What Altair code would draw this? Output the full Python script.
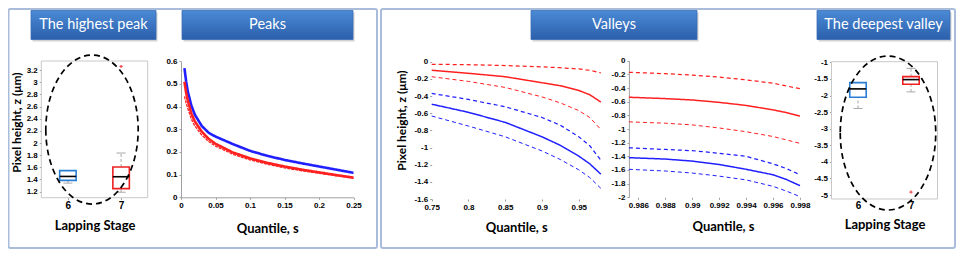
import altair as alt
import pandas as pd

W, H = 953, 241
FONT = "Liberation Sans"
TFONT = "Lato"
BOX_BLUE = "#2a7fd4"
BOX_RED = "#ee2020"
LINE_BLUE = "#2020ff"
LINE_RED = "#ff2020"
AX = "#a0a0a0"

# ---------------- data ----------------
stages = [6, 7]

peak_low = [1.34, 1.19]
peak_q1 = [1.385, 1.25]
peak_median = [1.45, 1.445]
peak_q3 = [1.545, 1.605]
peak_high = [1.545, 1.835]
peak_outlier_stage = [7]
peak_outlier = [3.26]

valley_low = [-2.39, -1.89]
valley_q1 = [-2.05, -1.66]
valley_median = [-1.80, -1.52]
valley_q3 = [-1.61, -1.43]
valley_high = [-1.61, -1.18]
valley_outlier_stage = [7]
valley_outlier = [-4.91]

peak_s = [0.005, 0.0075, 0.01, 0.015, 0.02, 0.03, 0.04, 0.05, 0.075, 0.1,
          0.125, 0.15, 0.175, 0.2, 0.225, 0.25]
peak_stage6 = [0.57, 0.51, 0.465, 0.405, 0.365, 0.315, 0.285, 0.268, 0.235, 0.205,
               0.183, 0.165, 0.150, 0.136, 0.122, 0.108]
peak_stage7 = [0.51, 0.46, 0.425, 0.37, 0.335, 0.29, 0.258, 0.236, 0.198, 0.172,
               0.152, 0.136, 0.122, 0.110, 0.098, 0.087]
peak_stage7_low = [0.445, 0.415, 0.39, 0.345, 0.315, 0.275, 0.246, 0.226, 0.19, 0.165,
                   0.146, 0.13, 0.117, 0.106, 0.095, 0.084]

valley1_s = [0.75, 0.8, 0.85, 0.9, 0.925, 0.95, 0.965, 0.98]
v1_stage7_upper = [-0.03, -0.035, -0.045, -0.06, -0.07, -0.085, -0.10, -0.13]
v1_stage7_mean = [-0.10, -0.135, -0.175, -0.245, -0.28, -0.335, -0.385, -0.47]
v1_stage7_lower = [-0.175, -0.23, -0.30, -0.41, -0.48, -0.57, -0.65, -0.79]
v1_stage6_upper = [-0.37, -0.44, -0.525, -0.65, -0.74, -0.875, -0.98, -1.146]
v1_stage6_mean = [-0.495, -0.59, -0.707, -0.875, -0.975, -1.10, -1.19, -1.31]
v1_stage6_lower = [-0.633, -0.75, -0.875, -1.04, -1.14, -1.26, -1.35, -1.476]

valley2_s = [0.9853, 0.988, 0.990, 0.992, 0.994, 0.996, 0.997, 0.998]
v2_stage7_upper = [-0.17, -0.19, -0.21, -0.24, -0.28, -0.33, -0.37, -0.41]
v2_stage7_mean = [-0.535, -0.555, -0.575, -0.61, -0.655, -0.72, -0.76, -0.81]
v2_stage7_lower = [-0.895, -0.915, -0.94, -0.985, -1.04, -1.11, -1.16, -1.21]
v2_stage6_upper = [-1.275, -1.30, -1.317, -1.355, -1.40, -1.51, -1.58, -1.67]
v2_stage6_mean = [-1.42, -1.44, -1.47, -1.52, -1.59, -1.67, -1.74, -1.83]
v2_stage6_lower = [-1.59, -1.615, -1.645, -1.69, -1.745, -1.84, -1.91, -1.99]

ticks_p1_y = [1.2, 1.4, 1.6, 1.8, 2, 2.2, 2.4, 2.6, 2.8, 3, 3.2]
ticks_p2_x = [0, 0.05, 0.1, 0.15, 0.2, 0.25]
ticks_p2_y = [0, 0.1, 0.2, 0.3, 0.4, 0.5, 0.6]
ticks_p3_x = [0.75, 0.8, 0.85, 0.9, 0.95]
ticks_p3_y = [0, -0.2, -0.4, -0.6, -0.8, -1, -1.2, -1.4, -1.6]
ticks_p4_x = [0.986, 0.988, 0.99, 0.992, 0.994, 0.996, 0.998]
ticks_p4_y = [0, -0.2, -0.4, -0.6, -0.8, -1, -1.2, -1.4, -1.6, -1.8, -2]
ticks_p5_y = [-1, -1.5, -2, -2.5, -3, -3.5, -4, -4.5, -5]

ELLIPSE = "M -0.62 0 A 0.62 1 0 1 0 0.62 0 A 0.62 1 0 1 0 -0.62 0 Z"

dummy = pd.DataFrame({"k": [0]})


def box_df(low, q1, med, q3, high):
    return pd.DataFrame({"stage": stages, "low": low, "q1": q1, "median": med,
                         "q3": q3, "high": high})


def line_df(s, series):
    rows = []
    for (stage, kind), vals in series.items():
        for x, z in zip(s, vals):
            rows.append({"s": x, "z": z, "stage": stage, "kind": kind,
                         "series": f"{stage}-{kind}"})
    return pd.DataFrame(rows)


def axis_y(offset, values, domain, title=None, tx=0.0, ty=0.0):
    kw = dict(orient="left", offset=offset, values=values, labelExpr="'' + datum.value",
              domain=domain, domainColor=AX, domainWidth=1, ticks=True, tickSize=2,
              tickColor=AX, labelFont=FONT, labelFontSize=8, labelFontWeight="bold",
              labelColor="black", labelPadding=2, grid=False, labelOverlap=False)
    if title:
        kw.update(title=title, titleX=tx, titleY=ty, titleAngle=270, titleAlign="center",
                  titleBaseline="middle", titleFont=TFONT, titleFontSize=12,
                  titleFontWeight="bold", titleColor="black")
    else:
        kw["title"] = None
    return alt.Axis(**kw)


def axis_x(offset, values, domain, title, ty, tx=None, lsize=8, tsize=2, lpad=2):
    kw = dict(orient="bottom", offset=offset, values=values, labelExpr="'' + datum.value",
              domain=domain, domainColor=AX, domainWidth=1, ticks=tsize > 0, tickSize=tsize,
              tickColor=AX, labelFont=FONT, labelFontSize=lsize, labelFontWeight="bold",
              labelColor="black", labelPadding=lpad, grid=False, labelOverlap=False,
              labelFlush=False, title=title, titleY=ty, titleBaseline="middle",
              titleFont=TFONT, titleFontSize=13, titleFontWeight="bold", titleColor="black")
    if tx is not None:
        kw["titleX"] = tx
    return alt.Axis(**kw)


def sc(domain, rng):
    return alt.Scale(domain=domain, range=rng, nice=False, zero=False)


def box_panel(df, out_stage, out_vals, xs, ys, xdom, ydom, xaxis, yaxis, ell, ell_size,
              half=0.155, cap=0.085):
    frame = alt.Chart(dummy).mark_rect(fill="white", fillOpacity=0, stroke="#c8c8c8",
                                        strokeWidth=1).encode(
        x=alt.X(datum=xdom[0], type="quantitative", scale=xs, axis=None),
        x2=alt.X2(datum=xdom[1]),
        y=alt.Y(datum=ydom[0], type="quantitative", scale=ys, axis=None),
        y2=alt.Y2(datum=ydom[1]))
    base = alt.Chart(df).transform_calculate(
        lo=f"datum.stage - {half}", hi=f"datum.stage + {half}",
        clo=f"datum.stage - {cap}", chi=f"datum.stage + {cap}")
    X = lambda f: alt.X(f, type="quantitative", scale=xs, axis=None)
    Y = lambda f: alt.Y(f, type="quantitative", scale=ys, axis=None)
    wl = base.mark_rule(color="#a8a8a8", strokeDash=[3, 2], strokeWidth=1).encode(
        x=alt.X("stage", type="quantitative", scale=xs, axis=xaxis),
        y=alt.Y("low", type="quantitative", scale=ys, axis=yaxis), y2="q1:Q")
    wh = base.mark_rule(color="#a8a8a8", strokeDash=[3, 2], strokeWidth=1).encode(
        x=X("stage"), y=Y("q3"), y2="high:Q")
    cl = base.mark_rule(color="#a8a8a8", strokeWidth=1).encode(
        x=X("clo"), x2="chi:Q", y=Y("low"))
    ch = base.mark_rule(color="#a8a8a8", strokeWidth=1).encode(
        x=X("clo"), x2="chi:Q", y=Y("high"))
    box = base.mark_rect(fill="white", strokeWidth=1.6).encode(
        x=X("lo"), x2="hi:Q", y=Y("q1"), y2="q3:Q",
        stroke=alt.Stroke("stage:N", scale=alt.Scale(domain=stages, range=[BOX_BLUE, BOX_RED]),
                          legend=None))
    med = base.mark_rule(color="black", strokeWidth=1.6).encode(
        x=X("lo"), x2="hi:Q", y=Y("median"))
    out = alt.Chart(pd.DataFrame({"stage": out_stage, "z": out_vals})).mark_point(
        shape="cross", size=10, color=BOX_RED, filled=True, opacity=0.8).encode(
        x=X("stage"), y=Y("z"))
    el = alt.Chart(dummy).mark_point(shape=ELLIPSE, size=ell_size, filled=False, color="black",
                                     strokeWidth=1.7, strokeDash=[6, 4], opacity=1).encode(
        x=alt.X(datum=ell[0], type="quantitative", scale=xs, axis=None),
        y=alt.Y(datum=ell[1], type="quantitative", scale=ys, axis=None))
    return [frame, wl, wh, cl, ch, box, med, out, el]


def valley_panel(df, xs, ys, xaxis, yaxis):
    return alt.Chart(df).mark_line().encode(
        x=alt.X("s:Q", scale=xs, axis=xaxis),
        y=alt.Y("z:Q", scale=ys, axis=yaxis),
        detail="series:N",
        color=alt.Color("stage:N", scale=alt.Scale(domain=[6, 7], range=[LINE_BLUE, LINE_RED]),
                        legend=None),
        strokeDash=alt.StrokeDash("kind:N", scale=alt.Scale(
            domain=["mean", "upper", "lower"], range=[[1, 0], [4, 3], [4, 3]]), legend=None),
        size=alt.Size("kind:N", scale=alt.Scale(domain=["mean", "upper", "lower"],
                                                range=[1.5, 1.0, 1.0]), legend=None),
    )


# ---------------- panel 1: highest peak ----------------
xs1 = sc([5.5, 7.5], [33.3, 139.7])
ys1 = sc([1.1, 3.35], [189.7, 53])
p1 = box_panel(box_df(peak_low, peak_q1, peak_median, peak_q3, peak_high),
               peak_outlier_stage, peak_outlier, xs1, ys1, [5.5, 7.5], [1.1, 3.35],
               axis_x(189.7 - H, stages, False, "Lapping Stage", 217 - 189.7, lsize=10, lpad=1),
               axis_y(-33.3, ticks_p1_y, False, "Pixel height, z (μm)", tx=8 - 33.3, ty=114),
               (6.453, 2.222), 22201)

# ---------------- panel 2: peaks ----------------
xs2 = sc([0, 0.25], [173, 345.5])
ys2 = sc([0, 0.6], [189.3, 53.3])
peaks = line_df(peak_s, {(6, "mean"): peak_stage6, (7, "mean"): peak_stage7,
                         (7, "lower"): peak_stage7_low})
p2 = alt.Chart(peaks).mark_line().encode(
    x=alt.X("s:Q", scale=xs2, axis=axis_x(189.3 - H, ticks_p2_x, True, "Quantile, s", 220 - 189.3)),
    y=alt.Y("z:Q", scale=ys2, axis=axis_y(-173, ticks_p2_y, True)),
    detail="series:N",
    color=alt.Color("stage:N", scale=alt.Scale(domain=[6, 7], range=[LINE_BLUE, LINE_RED]),
                    legend=None),
    strokeDash=alt.StrokeDash("kind:N", scale=alt.Scale(domain=["mean", "lower"],
                                                        range=[[1, 0], [3, 1]]), legend=None),
    size=alt.Size("kind:N", scale=alt.Scale(domain=["mean", "lower"], range=[2.6, 1.3]),
                  legend=None),
)

# ---------------- panel 3: valleys (body) ----------------
xs3 = sc([0.75, 0.98], [423.7, 592.8])
ys3 = sc([-1.6, 0], [191, 53.7])
v1 = line_df(valley1_s, {(7, "upper"): v1_stage7_upper, (7, "mean"): v1_stage7_mean,
                         (7, "lower"): v1_stage7_lower, (6, "upper"): v1_stage6_upper,
                         (6, "mean"): v1_stage6_mean, (6, "lower"): v1_stage6_lower})
p3 = valley_panel(v1, xs3, ys3,
                  axis_x(191 - H, ticks_p3_x, False, "Quantile, s", 219 - 191),
                  axis_y(-423.7, ticks_p3_y, False, "Pixel height, z (μm)", tx=-30, ty=112))

# ---------------- panel 4: valleys (tail) ----------------
xs4 = sc([0.9853, 0.998], [620.9, 792])
ys4 = sc([-2, 0], [189.3, 52.7])
v2 = line_df(valley2_s, {(7, "upper"): v2_stage7_upper, (7, "mean"): v2_stage7_mean,
                         (7, "lower"): v2_stage7_lower, (6, "upper"): v2_stage6_upper,
                         (6, "mean"): v2_stage6_mean, (6, "lower"): v2_stage6_lower})
p4 = valley_panel(v2, xs4, ys4,
                  axis_x(189.3 - H, ticks_p4_x, False, "Quantile, s", 218 - 189.3, tx=715),
                  axis_y(-620.9, ticks_p4_y, True))

# ---------------- panel 5: deepest valley ----------------
xs5 = sc([5.5, 7.5], [823.5, 929.5])
ys5 = sc([-5.12, -0.98], [191, 53.7])
p5 = box_panel(box_df(valley_low, valley_q1, valley_median, valley_q3, valley_high),
               valley_outlier_stage, valley_outlier, xs5, ys5, [5.5, 7.5], [-5.12, -0.98],
               axis_x(191 - H, stages, False, "Lapping Stage", 216 - 191, lsize=10, tsize=0, lpad=1),
               axis_y(-823.5, ticks_p5_y, False),
               (6.566, -3.13), 23716)

# ---------------- decorations: frames and title buttons ----------------
def frame(x1, x2):
    return alt.Chart(dummy).mark_rect(fill="white", fillOpacity=0, stroke="#a9bcd9",
                                      strokeWidth=2, cornerRadius=2).encode(
        x=alt.value(x1), x2=alt.value(x2), y=alt.value(1), y2=alt.value(240))


grad = alt.LinearGradient(gradient="linear", x1=0, x2=0, y1=0, y2=1,
                          stops=[alt.GradientStop(color="#4b8ad6", offset=0),
                                 alt.GradientStop(color="#2b5fab", offset=1)])


def button(x1, x2, label):
    shadow = alt.Chart(dummy).mark_rect(color="#7f7f7f", opacity=0.35).encode(
        x=alt.value(x1 + 1.5), x2=alt.value(x2 + 1.5), y=alt.value(4.5), y2=alt.value(33.5))
    rect = alt.Chart(dummy).mark_rect(fill=grad, stroke="#3a6db5", strokeWidth=0.8).encode(
        x=alt.value(x1), x2=alt.value(x2), y=alt.value(2.5), y2=alt.value(31.5))
    txt = alt.Chart(dummy).mark_text(text=label, font=TFONT, fontSize=14.5, color="white",
                                     align="center", baseline="middle").encode(
        x=alt.value((x1 + x2) / 2), y=alt.value(17))
    return [shadow, rect, txt]


deco = [frame(0.5, 369), frame(373, 947)]
deco += button(23, 148, "The highest peak")
deco += button(174, 345, "Peaks")
deco += button(523, 689, "Valleys")
deco += button(809, 942, "The deepest valley")

chart = alt.layer(*deco, *p1, p2, p3, p4, *p5).resolve_scale(
    x="independent", y="independent", color="independent", stroke="independent",
    strokeDash="independent", size="independent"
).properties(
    width=W, height=H, padding=0, autosize=alt.AutoSizeParams(type="none"),
    background="white"
).configure_view(strokeWidth=0)

chart.save("out.html", embed_options={"renderer": "svg", "actions": False})
